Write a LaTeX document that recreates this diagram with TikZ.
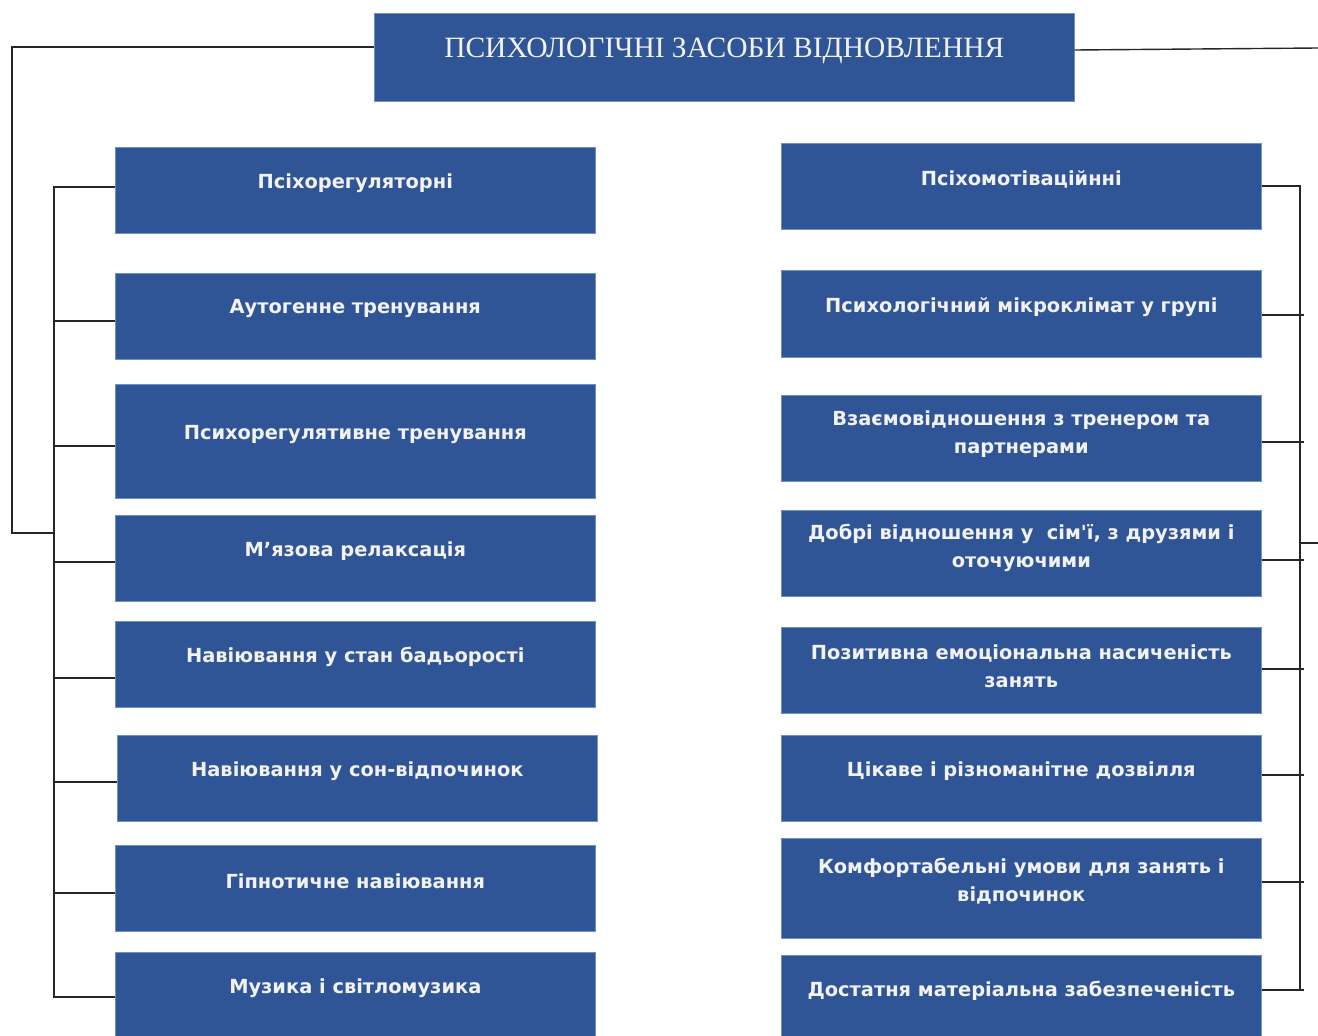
\documentclass[tikz,border=0pt]{standalone}
\usepackage{fontspec}
\setmainfont{Liberation Serif}
\newfontfamily\boxfont{DejaVu Sans}
\usetikzlibrary{calc}
\definecolor{boxblue}{HTML}{2F5597}
\definecolor{boxedge}{HTML}{6F8FC7}
\begin{document}
\begin{tikzpicture}[x=1pt,y=-1pt,
  box/.style={fill=boxblue, draw=boxedge, line width=0.6pt, anchor=north west, inner sep=0pt,
              minimum width=480pt, minimum height=86pt},
  tbox/.style={box, minimum width=700pt, minimum height=88pt},
  txt/.style={text=white!95!black, align=center, inner sep=0pt,
              font=\boxfont\bfseries\fontsize{19.4}{28}\selectfont},
  ttxt/.style={text=white!95!black, inner sep=0pt, font=\fontsize{29.5}{32}\selectfont},
  conn/.style={draw=black!85, line width=1.4pt}]
\useasboundingbox (0,0) rectangle (1318,1036);

% title
\node[tbox] (T) at (374,13) {};
\node[ttxt] (Tt) at ($(T.center)+(0,-6)$) {ПСИХОЛОГІЧНІ ЗАСОБИ ВІДНОВЛЕННЯ};

% left column
\node[box] (L1) at (115,147) {};
\node[box] (L2) at (115,273) {};
\node[box, minimum height=114pt] (L3) at (115,384) {};
\node[box] (L4) at (115,515) {};
\node[box] (L5) at (115,621) {};
\node[box] (L6) at (117,735) {};
\node[box] (L7) at (115,845) {};
\node[box] (L8) at (115,952) {};

\node[txt] (L1t) at ($(L1.center)+(0,-7.5)$) {Псіхорегуляторні};
\node[txt] (L2t) at ($(L2.center)+(0,-7.5)$) {Аутогенне тренування};
\node[txt] (L3t) at ($(L3.center)+(0,-6.5)$) {Психорегулятивне тренування};
\node[txt] (L4t) at ($(L4.center)+(0,-7.5)$) {М’язова релаксація};
\node[txt] (L5t) at ($(L5.center)+(0,-7.5)$) {Навіювання у стан бадьорості};
\node[txt] (L6t) at ($(L6.center)+(0,-7.5)$) {Навіювання у сон-відпочинок};
\node[txt] (L7t) at ($(L7.center)+(0,-7.5)$) {Гіпнотичне навіювання};
\node[txt] (L8t) at ($(L8.center)+(0,-7.5)$) {Музика і світломузика};

% right column
\node[box] (R1) at (781,143) {};
\node[box, minimum height=87pt] (R2) at (781,270) {};
\node[box] (R3) at (781,395) {};
\node[box] (R4) at (781,510) {};
\node[box] (R5) at (781,627) {};
\node[box] (R6) at (781,735) {};
\node[box, minimum height=100pt] (R7) at (781,838) {};
\node[box] (R8) at (781,955) {};

\node[txt] (R1t) at ($(R1.center)+(0,-7)$) {Псіхомотіваційнні};
\node[txt] (R2t) at ($(R2.center)+(0,-7)$) {Психологічний мікроклімат у групі};
\node[txt] (R3t) at ($(R3.center)+(0,-4.5)$) {Взаємовідношення з тренером та\\партнерами};
\node[txt] (R4t) at ($(R4.center)+(0,-5.5)$) {Добрі відношення у~ сім'ї, з друзями і\\оточуючими};
\node[txt] (R5t) at ($(R5.center)+(0,-4.5)$) {Позитивна емоціональна насиченість\\занять};
\node[txt] (R6t) at ($(R6.center)+(0,-7)$) {Цікаве і різноманітне дозвілля};
\node[txt] (R7t) at ($(R7.center)+(0,-7.5)$) {Комфортабельні умови для занять і\\відпочинок};
\node[txt] (R8t) at ($(R8.center)+(0,-7)$) {Достатня матеріальна забезпеченість};

% buses
\coordinate (lbus) at (54,0);
\coordinate (obus) at (12,0);
\coordinate (rbus) at (1300,0);
\coordinate (redge) at (1318,0);

% left connectors
\draw[conn] (L1.west |- 0,187) -| (lbus |- 0,997) -- (L8.west |- 0,997);
\foreach \n/\y in {L2/321,L3/446,L4/562,L5/678,L6/782,L7/893}
  \draw[conn] (\n.west |- 0,\y) -- (lbus |- 0,\y);
\draw[conn] (T.west |- 0,47) -| (obus |- 0,533) -- (lbus |- 0,533);

% right connectors
\draw[conn] (T.east |- 0,50) -- (redge |- 0,48);
\draw[conn] (R1.east |- 0,186) -| (rbus |- 0,990);
\foreach \n/\y in {R2/315,R3/442,R4/560,R5/669,R6/775,R7/882,R8/990}
  \draw[conn] (\n.east |- 0,\y) -- ([xshift=4pt]rbus |- 0,\y);
\draw[conn] (rbus |- 0,543) -- (redge |- 0,543);
\end{tikzpicture}
\end{document}
